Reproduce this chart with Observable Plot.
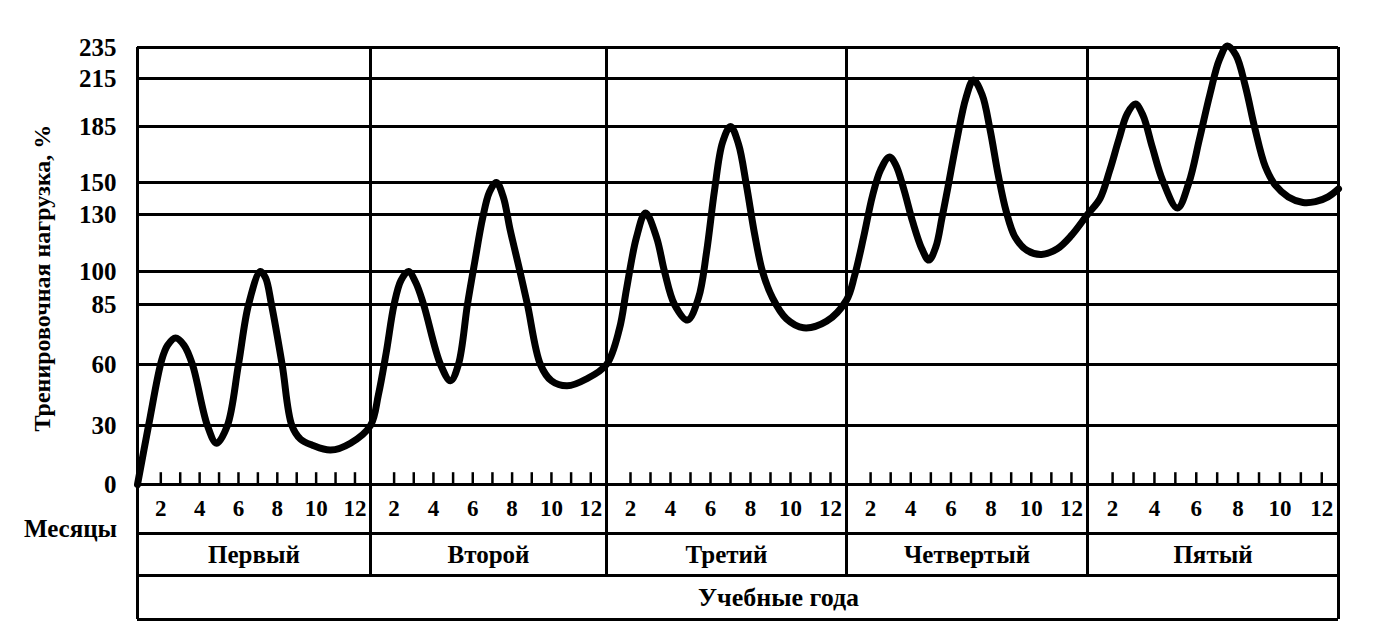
<!DOCTYPE html>
<html>
<head>
<meta charset="utf-8">
<script src="https://cdn.jsdelivr.net/npm/d3@7"></script>
<script src="https://cdn.jsdelivr.net/npm/@observablehq/plot@0.6"></script>
<style>
  html, body { margin: 0; padding: 0; background: #fff; }
</style>
</head>
<body>
<div id="chart"></div>
<script>
// ---- data ----
// position along the time axis (in months from the start of year 1)
const months = [
  0, 0.57, 1.25, 1.55, 1.96, 2.4, 2.83, 3.6, 4.07, 4.63, 5.2, 5.72, 6.33, 6.6, 6.9, 7.45, 7.95, 8.4, 9.0, 9.94, 10.97,
  12, 12.4, 12.8, 13.2, 13.55, 13.93, 14.3, 14.7, 15.56, 16.07, 16.47, 16.93, 17.3, 17.7, 18.05, 18.4, 18.75, 19.1, 19.6, 19.98, 20.64, 21.2, 22.0, 23.0,
  24, 24.65, 25.0, 25.5, 25.95, 26.5, 26.9, 27.4, 28.05, 28.6, 29.0, 29.4, 29.8, 30.2, 30.6, 31.0, 31.4, 31.8, 32.3, 33.0, 33.85, 35.0,
  36, 36.4, 36.85, 37.3, 37.7, 38.14, 38.45, 38.85, 39.3, 39.75, 40.1, 40.45, 40.75, 41.05, 41.5, 41.95, 42.32, 42.75, 43.15, 43.55, 43.95, 44.4, 45.0, 45.71, 46.5, 47.2,
  48, 48.6, 49.05, 49.5, 49.9, 50.29, 50.65, 51.1, 51.6, 52.3, 52.85, 53.35, 53.85, 54.3, 54.69, 55.1, 55.55, 56.0, 56.5, 57.0, 57.6, 58.3, 58.9, 59.5, 60
];
// training load, %
const load = [
  0, 30, 62, 68, 71, 68, 60, 30, 21, 30, 60, 85, 100, 97, 85, 60, 30, 23, 20, 17.5, 21,
  30, 45, 65, 85, 96, 100, 95, 85, 60, 52, 60, 85, 105, 128, 144, 150, 141, 122, 100, 85, 60, 52, 49.5, 53,
  60, 75, 92, 118, 131, 118, 100, 85, 78.5, 88, 110, 145, 175, 185, 174, 148, 120, 100, 88, 79, 75.3, 78,
  87, 98, 118, 142, 158, 166, 161, 146, 126, 112, 106, 113, 128, 147, 177, 203, 214, 205, 183, 155, 132, 118, 111, 109, 112, 119,
  130, 140, 157, 177, 193, 199, 192, 172, 151, 134, 150, 177, 205, 227, 236, 230, 210, 184, 160, 148, 141, 137.5, 138, 141, 146
];
const yTicks = [0, 30, 60, 85, 100, 130, 150, 185, 215, 235];
const years = ["Первый", "Второй", "Третий", "Четвертый", "Пятый"];
const monthLabels = [2, 4, 6, 8, 10, 12];
const monthsPerYear = 12;
const yTitle = "Тренировочная нагрузка, %";
const monthsTitle = "Месяцы";
const yearsTitle = "Учебные года";

// ---- layout: the hand-drawn grid is unevenly spaced, so warp values piecewise ----
// y: load values (and table rows -1..-3 below the baseline) -> drawing units
const Y = d3.scaleLinear()
  .domain([-3, -2, -1, 0, 30, 60, 85, 100, 130, 150, 185, 215, 235])
  .range([0, 44, 86, 135, 194, 255, 315, 348, 405, 437, 493, 541, 572]);
// x: months -> drawing units (years are slightly unequal in width)
const X = d3.scaleLinear()
  .domain([0, 12, 24, 36, 48, 60])
  .range([0, 233, 469, 709, 950, 1201]);

// ---- derived tables ----
const curve = months.map((t, i) => ({x: X(t), y: Y(load[i])}));
const tickPos = [];
const labelRows = [];
years.forEach((name, yi) => {
  for (let k = 1; k < monthsPerYear; k++) {
    const t = yi * monthsPerYear + k + 0.2;
    tickPos.push(t);
    if (monthLabels.includes(k + 1)) labelRows.push({t, label: String(k + 1)});
  }
});
const yearRows = years.map((name, i) => ({t: i * monthsPerYear + monthsPerYear / 2, name}));
const yearBounds = years.slice(1).map((d, i) => (i + 1) * monthsPerYear);
const tEnd = years.length * monthsPerYear;
const tableRows = [-1, -2, -3];

const font = "'Liberation Serif', 'Times New Roman', serif";

const chart = Plot.plot({
  width: 1373,
  height: 643,
  marginLeft: 137,
  marginRight: 35,
  marginTop: 47,
  marginBottom: 24,
  style: {fontFamily: font, fontSize: "25px", fontWeight: "bold", color: "#000", background: "#fff"},
  x: {domain: [0, X(tEnd)], axis: null},
  y: {domain: [0, Y(235)], axis: null},
  marks: [
    Plot.axisY(yTicks.map(Y), {
      tickSize: 0,
      tickPadding: 21,
      tickFormat: w => String(Math.round(Y.invert(w))),
      label: null,
      fontSize: 25,
      fontWeight: "bold",
      fill: "#000"
    }),
    Plot.ruleY(yTicks, {y: d => Y(d), x1: X(0), x2: X(tEnd), stroke: "#000", strokeWidth: 3}),
    Plot.ruleY(tableRows, {y: d => Y(d), x1: X(0), x2: X(tEnd), stroke: "#000", strokeWidth: 3}),
    Plot.ruleX([0, tEnd], {x: d => X(d), y1: Y(-3), y2: Y(235), stroke: "#000", strokeWidth: 3}),
    Plot.ruleX(yearBounds, {x: d => X(d), y1: Y(-2), y2: Y(235), stroke: "#000", strokeWidth: 3}),
    Plot.ruleX(tickPos, {x: d => X(d), y1: Y(0), y2: Y(6), stroke: "#000", strokeWidth: 2.5}),
    Plot.line(curve, {x: "x", y: "y", curve: "catmull-rom", stroke: "#000", strokeWidth: 7, strokeLinejoin: "round", strokeLinecap: "round"}),
    Plot.text(labelRows, {x: d => X(d.t), y: Y(-0.5), text: "label", fontSize: 23, fontWeight: "bold", fill: "#000"}),
    Plot.text(yearRows, {x: d => X(d.t), y: Y(-1.5), text: "name", fontSize: 25, fontWeight: "bold", fill: "#000"}),
    Plot.text([yearsTitle], {x: X(32.6), y: Y(-2.5), text: d => d, fontSize: 26, fontWeight: "bold", fill: "#000"}),
    Plot.text([monthsTitle], {frameAnchor: "left", y: Y(-0.9), dx: -67, text: d => d, textAnchor: "middle", fontSize: 25, fontWeight: "bold", fill: "#000"}),
    Plot.text([yTitle], {frameAnchor: "left", y: Y(97), dx: -95, text: d => d, rotate: -90, textAnchor: "middle", fontSize: 24, fontWeight: "bold", fill: "#000"})
  ]
});
document.getElementById("chart").appendChild(chart);
</script>
</body>
</html>
